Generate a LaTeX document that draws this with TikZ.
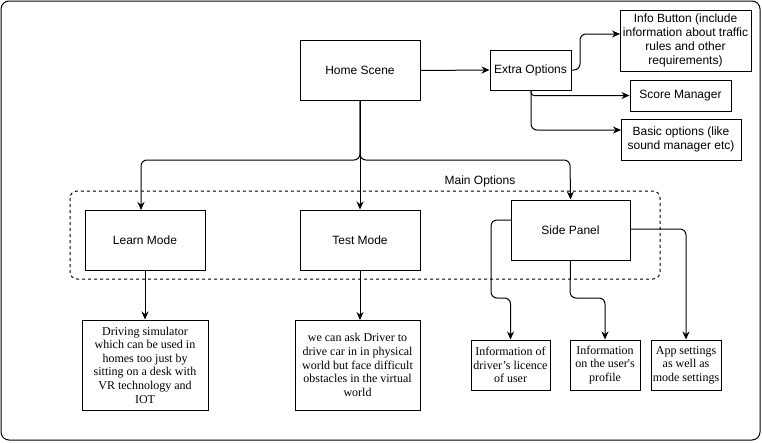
\documentclass[tikz,border=0pt]{standalone}
\usepackage{fontspec}
\setmainfont{Liberation Sans}
\newfontfamily\serifx{Liberation Serif}
\usetikzlibrary{arrows.meta}
\begin{document}
\begin{tikzpicture}[x=1pt,y=-1pt, line width=1pt,
 box/.style={draw, rectangle, inner sep=1pt, align=center, font=\fontsize{12}{14}\selectfont},
 sbox/.style={draw, rectangle, inner sep=1pt, align=center, font=\serifx\fontsize{12}{13.6}\selectfont},
 arr/.style={-{Stealth[length=8pt,width=7pt]}, rounded corners=6pt},
 lbl/.style={font=\fontsize{12}{14}\selectfont}]
\useasboundingbox (0,0) rectangle (762,442);
\draw[rounded corners=8pt] (1,1) rectangle (760,440);
% group
\draw[dashed, dash pattern=on 3pt off 3pt, rounded corners=7pt] (70,191) rectangle (660,279);
\node[lbl] (mainopt) at (480,181) {Main Options};
% top nodes
\node[box, minimum width=120pt, minimum height=60pt] (home) at (360,70.5) {Home Scene};
\node[box, minimum width=81pt, minimum height=40pt] (extra) at (530.5,70) {Extra Options};
\node[box, minimum width=131pt, minimum height=61pt] (info) at (685.5,40.5) {Info Button (include\\information about traffic\\rules and other\\requirements)};
\node[box, minimum width=101pt, minimum height=31pt] (score) at (680.5,95.5) {Score Manager};
\node[box, minimum width=120pt, minimum height=41pt] (basic) at (681,139.5) {Basic options (like\\sound manager etc)};
% mode nodes
\node[box, minimum width=120pt, minimum height=60pt] (learn) at (145,240) {Learn Mode};
\node[box, minimum width=120pt, minimum height=60pt] (test) at (360,240) {Test Mode};
\node[box, minimum width=119pt, minimum height=60pt] (side) at (570.5,230) {Side Panel};
% bottom nodes
\node[sbox, minimum width=126pt, minimum height=90pt] (sim) at (145,365) {Driving simulator\\which can be used in\\homes too just by\\sitting on a desk with\\VR technology and\\IOT};
\node[sbox, minimum width=125pt, minimum height=90pt] (phys) at (357.5,365) {we can ask Driver to\\drive car in in physical\\world but face difficult\\obstacles in the virtual\\world};
\node[sbox, minimum width=79pt, minimum height=50pt] (lic) at (510.5,365) {Information of\\driver’s licence\\of user};
\node[sbox, minimum width=70pt, minimum height=50pt] (prof) at (605,365) {Information\\on the user's\\profile};
\node[sbox, minimum width=70pt, minimum height=50pt] (app) at (686,365) {App settings\\as well as\\mode settings};
% coordinates
\coordinate (infoin) at (620,34);
\coordinate (basicin) at (621,130);
\coordinate (exout) at (531,90);
\coordinate (spl) at (511,220);
\coordinate (spr) at (630,229);
% connectors
\draw[arr] (home.east) -- (extra.west);
\draw[arr] (extra.east) -- (580,70) -- (580,34) -- (infoin);
\draw[arr, rounded corners=3pt] (exout) -- (531,95.5) -- (score.west);
\draw[arr] (exout) -- (531,130) -- (basicin);
\draw[arr] (home.south) -- (360,160) -- (141,160) -- (141,210);
\draw[arr] (home.south) -- (test.north);
\draw[arr] (home.south) -- (360,160) -- (570,160) -- (side.north);
\draw[arr] (learn.south) -- (sim.north);
\draw[arr] (test.south) -- (360,320);
\draw[arr] (spl) -- (491,220) -- (491,298) -- (510.5,298) -- (lic.north);
\draw[arr] (side.south) -- (570,298) -- (605,298) -- (prof.north);
\draw[arr] (spr) -- (686,229) -- (app.north);
\end{tikzpicture}
\end{document}
